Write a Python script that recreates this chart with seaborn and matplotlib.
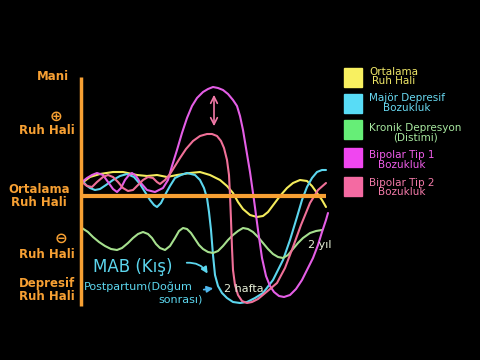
import matplotlib
matplotlib.use("Agg")
import matplotlib.pyplot as plt
import seaborn as sns
import pandas as pd
from matplotlib.patches import Rectangle

sns.set_theme(style="dark")
plt.rcParams['font.family'] = ['DejaVu Sans']

# ---- data (in picture units: x = time, y = mood; smaller y = higher mood) ----
yellow_x = [82, 90, 100, 113, 123, 137, 147, 157, 167, 177, 190, 200, 210, 220, 227, 233, 238, 243, 250, 257,
            263, 268, 274, 280, 287, 293, 300, 307, 312, 317, 322, 326]
yellow_y = [183, 177, 174, 172, 172, 175, 176, 175, 177, 175, 173, 172, 175, 180, 186, 193, 202, 209, 215, 217,
            216, 212, 204, 196, 188, 183, 180, 181, 186, 193, 200, 207]

cyan_x = [82, 86, 90, 95, 100, 106, 113, 120, 127, 134, 140, 145, 150, 154, 157, 161, 165, 170, 175, 181,
          187, 195, 200, 204, 207, 209, 211, 213, 215, 218, 222, 227, 233, 240, 247, 255, 263, 273, 283, 290,
          297, 302, 307, 312, 317, 322, 326]
cyan_y = [180, 185, 188, 190, 189, 185, 180, 176, 174, 177, 184, 192, 200, 205, 207, 203, 195, 186, 178, 175,
          173, 175, 180, 188, 198, 212, 230, 255, 275, 286, 293, 298, 302, 303, 302, 298, 293, 280, 260, 240,
          217, 200, 187, 178, 172, 170, 170]

green_x = [82, 88, 93, 99, 105, 111, 117, 122, 128, 133, 138, 143, 148, 152, 156, 160, 165, 170, 175, 179,
           183, 187, 191, 195, 199, 203, 208, 213, 218, 223, 228, 233, 238, 243, 248, 253, 258, 263, 268, 273,
           278, 283, 288, 293, 298, 303, 310, 316, 322]
green_y = [228, 232, 237, 242, 246, 249, 250, 248, 243, 238, 234, 232, 234, 238, 244, 248, 250, 246, 238, 231,
           228, 229, 233, 239, 245, 249, 252, 253, 251, 246, 240, 235, 231, 228, 229, 232, 237, 243, 249, 254,
           257, 258, 255, 249, 243, 238, 233, 231, 230]

magenta_x = [82, 87, 92, 97, 103, 108, 113, 117, 121, 125, 129, 132, 136, 140, 147, 155, 163, 168, 172, 177,
             182, 187, 192, 197, 203, 208, 213, 218, 223, 228, 233, 237, 240, 243, 246, 250, 254, 258, 262, 266,
             270, 274, 279, 284, 290, 296, 302, 308, 313, 318, 322, 326, 328]
magenta_y = [182, 178, 175, 173, 175, 182, 189, 192, 188, 180, 175, 173, 176, 182, 190, 192, 188, 180, 166, 150,
             133, 118, 106, 98, 92, 89, 87, 88, 90, 94, 100, 106, 116, 130, 148, 172, 200, 230, 258, 276,
             286, 292, 296, 297, 295, 289, 280, 268, 258, 245, 232, 220, 213]

pink_x = [82, 87, 92, 97, 103, 108, 113, 118, 123, 128, 133, 138, 143, 148, 153, 157, 160, 165, 170, 175,
          180, 186, 193, 200, 207, 212, 217, 221, 224, 227, 229, 230, 231, 232, 233, 235, 238, 242, 247, 252,
          258, 264, 270, 277, 285, 293, 301, 310, 318, 326]
pink_y = [182, 186, 187, 182, 177, 175, 177, 182, 188, 191, 190, 185, 180, 177, 178, 182, 184, 180, 174, 166,
          158, 149, 141, 136, 134, 134, 136, 141, 148, 160, 175, 195, 220, 248, 270, 285, 295, 301, 303, 302,
          299, 294, 289, 283, 268, 247, 225, 203, 190, 183]

series_labels = ["Ortalama\nRuh Hali", "Majör Depresif\nBozukluk", "Kronik Depresyon\n(Distimi)",
                 "Bipolar Tip 1\nBozukluk", "Bipolar Tip 2\nBozukluk"]
y_axis_labels = ["Mani", "Ruh Hali", "Ortalama\nRuh Hali", "Ruh Hali", "Depresif\nRuh Hali"]
y_axis_symbols = ["", "⊕", "", "⊖", ""]

# ---- styling ----
ORANGE = "#f7a033"
line_colors = ["#f4ec5c", "#5cd6ee", "#a6e08e", "#e45ee6", "#f07098"]
box_colors = ["#f8f060", "#58dcf6", "#66ee77", "#f046f0", "#f46aa2"]
text_colors = ["#f0e868", "#68d8f0", "#a8e8a0", "#ee5ce8", "#f27aa8"]

fig = plt.figure(figsize=(4.8, 3.6), dpi=100)
fig.patch.set_facecolor("black")
ax = fig.add_axes([0, 0, 1, 1])
ax.set_facecolor("black")

series = [(yellow_x, yellow_y), (cyan_x, cyan_y), (green_x, green_y),
          (magenta_x, magenta_y), (pink_x, pink_y)]
for (xs, ys), c in zip(series, line_colors):
    df = pd.DataFrame({"t": xs, "mood": ys})
    sns.lineplot(data=df, x="t", y="mood", color=c, linewidth=1.5, ax=ax,
                 sort=False, estimator=None, solid_joinstyle="round", solid_capstyle="round")
ax.set_xlim(0, 480)
ax.set_ylim(360, 0)
ax.axis("off")

# axes (orange)
ax.vlines(81, 77, 306, color=ORANGE, linewidth=2.5)
ax.hlines(196, 81, 326, color=ORANGE, linewidth=3)

# y-axis labels
ylab_pos = [(53, 77), (47, 130), (39, 196), (47, 254), (47, 290)]
sym_pos = [None, (56, 116), None, (61, 238), None]
for lab, (x, y) in zip(y_axis_labels, ylab_pos):
    ax.text(x, y, lab, color=ORANGE, fontsize=8.5, fontweight="bold",
            ha="center", va="center", multialignment="center", linespacing=1.05)
for sym, pos in zip(y_axis_symbols, sym_pos):
    if sym:
        ax.text(pos[0], pos[1], sym, color=ORANGE, fontsize=11, fontweight="bold",
                ha="center", va="center")

# legend
box_y = [77, 103, 129.5, 157.5, 186]
txt_y = [76.5, 103, 132.5, 160, 187.5]
for lab, by, ty, bc, tc in zip(series_labels, box_y, txt_y, box_colors, text_colors):
    ax.add_patch(Rectangle((344, by - 9.5), 18, 19, color=bc))
    ax.text(369, ty, lab, color=tc, fontsize=7.5, ha="left", va="center",
            multialignment="center", linespacing=0.95)

# annotations
ax.annotate("", xy=(214, 92), xytext=(214, 129),
            arrowprops=dict(arrowstyle="<->", color="#f27aa8", lw=1.2))
ax.text(93, 267, "MAB (Kış)", color="#5cd6ee", fontsize=12, ha="left", va="center")
ax.annotate("", xy=(209, 276), xytext=(184, 263),
            arrowprops=dict(arrowstyle="-|>", color="#5cd6ee", lw=1.3,
                            connectionstyle="arc3,rad=-0.35", mutation_scale=9))
ax.text(84, 287, "Postpartum(Doğum", color="#5cd6ee", fontsize=8, ha="left", va="center")
ax.text(158, 300, "sonrası)", color="#5cd6ee", fontsize=8, ha="left", va="center")
ax.annotate("", xy=(216, 288), xytext=(201, 290),
            arrowprops=dict(arrowstyle="-|>", color="#4fb8ee", lw=1.3, mutation_scale=9))
ax.text(224, 289, "2 hafta", color="#e8f0d8", fontsize=8, ha="left", va="center")
ax.text(308, 245, "2 yıl", color="#e8f0d8", fontsize=8, ha="left", va="center")

fig.savefig("out.png", dpi=100, facecolor="black")
